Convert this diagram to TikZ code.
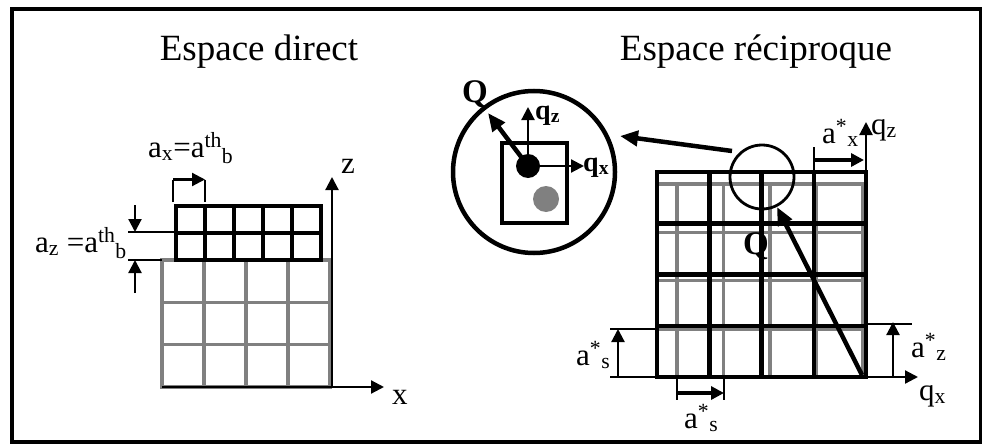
\documentclass[tikz,border=0pt]{standalone}
\usepackage{fontspec}
\setmainfont{Liberation Serif}
\usetikzlibrary{arrows.meta}
\begin{document}
\begin{tikzpicture}[x=1pt, y=-1pt,
    ttl/.style={font=\fontsize{37}{37}\selectfont, inner sep=0pt, anchor=base},
    lbl/.style={font=\fontsize{31}{31}\selectfont, inner sep=0pt, anchor=base west},
    bq/.style={font=\fontsize{28}{28}\selectfont\bfseries, inner sep=0pt, anchor=base west},
    gline/.style={line width=3.5pt, gray, line cap=rect},
    bline/.style={line width=4.5pt, line cap=rect},
    tck/.style={line width=1.5pt},
    ar/.style={line width=2.2pt, -{Triangle[length=13pt, width=13pt]}},
    thk/.style={line width=4.5pt, -{Triangle[length=18pt, width=15pt]}},
    dot/.style={circle, inner sep=0pt},
  ]
  \useasboundingbox (0,0) rectangle (982,444);
  \draw[line width=4.5pt] (12,9) rectangle (981,442);
  \node[ttl] (dirT) at (259,60) {Espace direct};
  \node[ttl] (recT) at (756,60) {Espace réciproque};

  \foreach \i in {0,...,4} \draw[gline] (162+\i*42,260) -- (162+\i*42,387);
  \foreach \j in {0,...,3} \draw[gline] (162,260+\j*42.33) -- (330,260+\j*42.33);
  \foreach \i in {0,...,5} \draw[bline] (176+\i*29,206) -- (176+\i*29,260);
  \foreach \j in {0,...,2} \draw[bline] (176,206+\j*27) -- (321,206+\j*27);

  \coordinate (O1) at (332,387);
  \coordinate (zE) at (332,177);
  \coordinate (xS) at (162,387);
  \coordinate (xE) at (384,387);
  \draw[ar] (xS) -- (xE);
  \draw[ar] (O1) -- (zE);
  \node[lbl] (zL) at (341,173) {z};
  \node[lbl] (xL) at (392,404) {x};

  \coordinate (axA) at (173,202);
  \coordinate (axB) at (173,179.5);
  \coordinate (axC) at (205,179.5);
  \coordinate (axD) at (205,202);
  \draw[tck] (axA) -- (axB);
  \draw[ar] (axB) -- (axC);
  \draw[tck] (axC) -- (axD);
  \node[lbl] (axL) at (148,157) {a\textsubscript{x}=a\textsuperscript{th}\textsubscript{b}};

  \coordinate (azA) at (135,205);
  \coordinate (azB) at (135,232);
  \coordinate (azC) at (135,293);
  \coordinate (azD) at (135,260);
  \coordinate (azE) at (128,232);
  \coordinate (azF) at (176,232);
  \coordinate (azG) at (128,260);
  \coordinate (azH) at (162,260);
  \draw[ar] (azA) -- (azB);
  \draw[ar] (azC) -- (azD);
  \draw[tck] (azE) -- (azF);
  \draw[tck] (azG) -- (azH);
  \node[lbl] (azL) at (35,252) {a\textsubscript{z} =a\textsuperscript{th}\textsubscript{b}};

  \foreach \i in {0,...,4} \draw[gline] (863-\i*46.5,184) -- (863-\i*46.5,377);
  \foreach \j in {0,...,4} \draw[gline] (657,377-\j*48.2) -- (863,377-\j*48.2);
  \foreach \i in {0,...,4} \draw[bline] (657+\i*52.25,172) -- (657+\i*52.25,377);
  \foreach \j in {0,...,4} \draw[bline] (657,172+\j*51.25) -- (866,172+\j*51.25);

  \coordinate (O2) at (866,377);
  \coordinate (QS) at (862,375);
  \coordinate (QE) at (777,207);
  \coordinate (qzE) at (866,122);
  \coordinate (qxE) at (918,377);
  \draw[thk] (QS) -- (QE);
  \draw[ar] (O2) -- (qzE);
  \draw[ar] (O2) -- (qxE);
  \node[lbl, font=\fontsize{33}{33}\selectfont\bfseries] (QL) at (743,254) {Q};
  \node[lbl] (qzL) at (871,134) {q\textsubscript{z}};
  \node[lbl] (qxL) at (919,400) {q\textsubscript{x}};

  \coordinate (asxA) at (814,147);
  \coordinate (asxB) at (814,172);
  \coordinate (asxC) at (814,160);
  \coordinate (asxD) at (864,160);
  \draw[tck] (asxA) -- (asxB);
  \draw[ar, line width=3.5pt] (asxC) -- (asxD);
  \node[lbl] (asxL) at (822,143) {a\textsuperscript{*}\textsubscript{x}};

  \coordinate (aszA) at (866,324);
  \coordinate (aszB) at (912,324);
  \coordinate (aszC) at (893,377);
  \coordinate (aszD) at (893,322);
  \draw[tck] (aszA) -- (aszB);
  \draw[ar] (aszC) -- (aszD);
  \node[lbl] (aszL) at (911,357) {a\textsuperscript{*}\textsubscript{z}};

  \coordinate (aslA) at (610,377);
  \coordinate (aslB) at (657,377);
  \coordinate (aslC) at (610,329);
  \coordinate (aslD) at (657,329);
  \coordinate (aslE) at (618,377);
  \coordinate (aslF) at (618,329);
  \draw[tck] (aslA) -- (aslB);
  \draw[tck] (aslC) -- (aslD);
  \draw[ar] (aslE) -- (aslF);
  \node[lbl] (aslL) at (576,365) {a\textsuperscript{*}\textsubscript{s}};

  \coordinate (asbA) at (677,377);
  \coordinate (asbB) at (677,400);
  \coordinate (asbC) at (724,377);
  \coordinate (asbD) at (724,400);
  \coordinate (asbE) at (677,393);
  \coordinate (asbF) at (724,393);
  \draw[tck] (asbA) -- (asbB);
  \draw[tck] (asbC) -- (asbD);
  \draw[ar, line width=3.5pt] (asbE) -- (asbF);
  \node[lbl] (asbL) at (684,428) {a\textsuperscript{*}\textsubscript{s}};

  \node[circle, draw, line width=2.8pt, minimum size=64pt, inner sep=0pt] (zoomC) at (762,177) {};
  \node[circle, draw, line width=4.5pt, minimum size=162pt, inner sep=0pt] (bigC) at (534,172) {};
  \node[draw, line width=3.2pt, minimum width=65pt, minimum height=80pt, inner sep=0pt] (box) at (534.5,183) {};
  \node[dot, fill=gray, minimum size=26pt] (dotG) at (546,199) {};
  \node[dot, fill, minimum size=24pt] (dotB) at (528,166) {};
  \coordinate (lkS) at (732,151);
  \coordinate (lkE) at (620,136);
  \draw[thk] (lkS) -- (lkE);

  \coordinate (cqz) at (528,107);
  \coordinate (cqx) at (584,166);
  \coordinate (cQ) at (488,113);
  \draw[ar] (dotB.center) -- (cqz);
  \draw[ar] (dotB.center) -- (cqx);
  \draw[thk] (dotB.center) -- (cQ);
  \node[lbl, font=\fontsize{33}{33}\selectfont\bfseries] (cQL) at (462,102) {Q};
  \node[bq] (cqzL) at (535,119) {q\textsubscript{z}};
  \node[bq] (cqxL) at (583,171) {q\textsubscript{x}};
\end{tikzpicture}
\end{document}
